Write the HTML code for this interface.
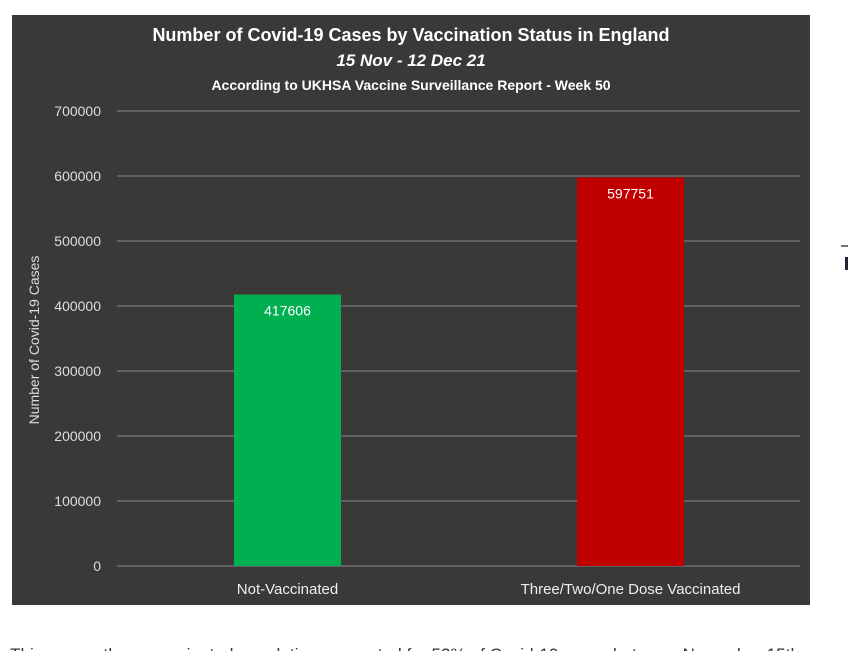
<!DOCTYPE html>
<html><head><meta charset="utf-8"><style>
body{margin:0;background:#fff;width:848px;height:651px;overflow:hidden;font-family:"Liberation Sans",sans-serif;}
svg{position:absolute;left:0;top:0}
</style></head><body>
<svg width="848" height="651">
<rect x="12" y="15" width="798" height="590" fill="#3a3938"/>
<text x="411" y="41" fill="#fff" font-size="18" font-weight="bold" text-anchor="middle">Number of Covid-19 Cases by Vaccination Status in England</text>
<text x="411" y="66" fill="#fff" font-size="17" font-weight="bold" font-style="italic" text-anchor="middle">15 Nov - 12 Dec 21</text>
<text x="411" y="90" fill="#fff" font-size="14" font-weight="bold" text-anchor="middle">According to UKHSA Vaccine Surveillance Report - Week 50</text>
<g id="grid"></g>
<g id="bars"></g>
<text transform="translate(39,340) rotate(-90)" fill="#ddd" font-size="14" text-anchor="middle">Number of Covid-19 Cases</text>
<text x="10" y="660" fill="#333" font-size="17" textLength="790">This means the unvaccinated population accounted for 53% of Covid-19 cases between November 15th</text>
<line x1="841" y1="246" x2="848" y2="246" stroke="#444" stroke-width="1.5"/>
<rect x="845" y="257" width="3" height="13" fill="#223"/>
</svg>
<script>
const categories=["Not-Vaccinated","Three/Two/One Dose Vaccinated"];
const values=[417606,597751];
const colors=["#00b050","#c00000"];
const ticks=[0,100000,200000,300000,400000,500000,600000,700000];
const NS="http://www.w3.org/2000/svg";
const y0=566,pxPer=65/100000;
const y=v=>y0-v*pxPer;
const centers=[287.5,630.5];const bw=107;
const grid=document.getElementById('grid'),bars=document.getElementById('bars');
function mk(tag,attrs,parent){const e=document.createElementNS(NS,tag);for(const k in attrs)e.setAttribute(k,attrs[k]);parent.appendChild(e);return e;}
ticks.forEach(t=>{
 const l=mk('line',{x1:117,x2:800,y1:y(t),y2:y(t),stroke:'#7a7a7a','stroke-width':1.3},grid);
 
 
 const tx=mk('text',{x:101,y:y(t)+5,fill:'#ddd','font-size':14,'text-anchor':'end'},grid);
 tx.textContent=t;
 
 
});
values.forEach((v,i)=>{
 const r=mk('rect',{x:centers[i]-bw/2,y:y(v),width:bw,height:y0-y(v),fill:colors[i]},bars);
 
 
 const lb=mk('text',{x:centers[i],y:y(v)+21,fill:'#fff','font-size':14,'text-anchor':'middle'},bars);
 lb.textContent=v;
 
 
 const c=mk('text',{x:centers[i],y:594,fill:'#eee','font-size':15,'text-anchor':'middle'},bars);
 c.textContent=categories[i];
 
 
});
</script>
</body></html>
